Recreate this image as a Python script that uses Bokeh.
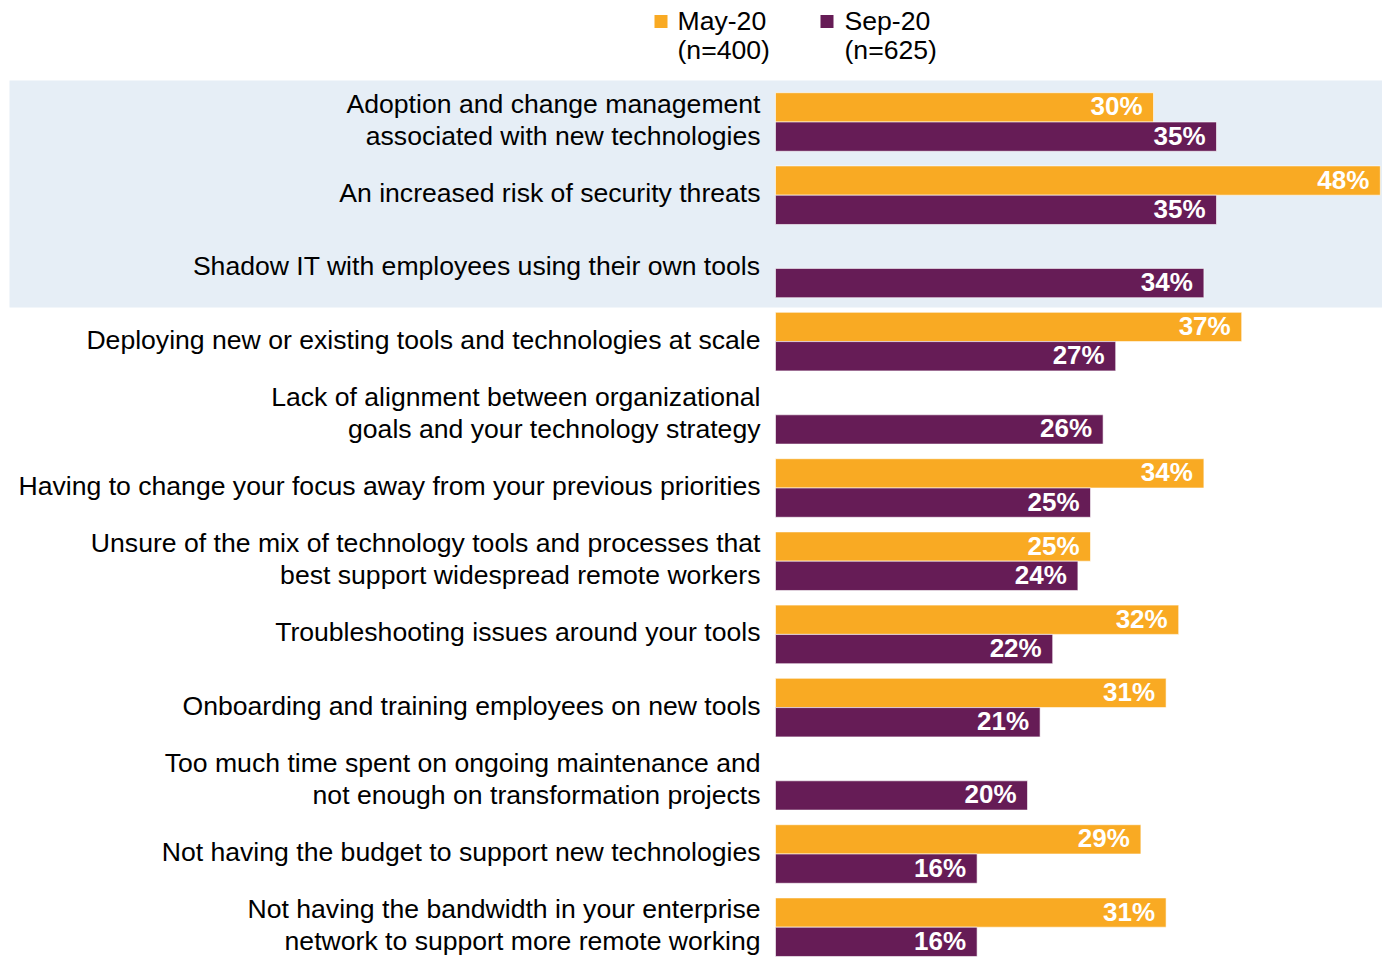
from bokeh.plotting import figure
from bokeh.models import Range1d, BoxAnnotation, ColumnDataSource
from bokeh.core.properties import value
from bokeh.embed import file_html
from bokeh.resources import INLINE

categories = [
    "Adoption and change management\nassociated with new technologies",
    "An increased risk of security threats",
    "Shadow IT with employees using their own tools",
    "Deploying new or existing tools and technologies at scale",
    "Lack of alignment between organizational\ngoals and your technology strategy",
    "Having to change your focus away from your previous priorities",
    "Unsure of the mix of technology tools and processes that\nbest support widespread remote workers",
    "Troubleshooting issues around your tools",
    "Onboarding and training employees on new tools",
    "Too much time spent on ongoing maintenance and\nnot enough on transformation projects",
    "Not having the budget to support new technologies",
    "Not having the bandwidth in your enterprise\nnetwork to support more remote working",
]
may20 = [30, 48, None, 37, None, 34, 25, 32, 31, None, 29, 31]
sep20 = [35, 35, 34, 27, 26, 25, 24, 22, 21, 20, 16, 16]
series_names = ["May-20", "Sep-20"]
series_n = ["(n=400)", "(n=625)"]

ORANGE = "#F9AA23"
PURPLE = "#661C56"
BAND = "#E6EEF6"
FONT = "Liberation Sans"

W, H = 1382, 959
PX = 12.6          # pixels per percent
X0 = 775           # pixel of 0%
ROW = 73.2         # pixels per category
ROW0 = 121.5       # pixel of first category centre
x_start, x_end = -X0 / PX, (W - X0) / PX
y_top, y_bottom = -ROW0 / ROW, (H - ROW0) / ROW

p = figure(width=W, height=H, x_range=Range1d(x_start, x_end),
           y_range=Range1d(y_bottom, y_top), output_backend="svg",
           toolbar_location=None, min_border=0,
           x_axis_location=None, y_axis_location=None)
p.grid.visible = False
p.outline_line_color = None
p.background_fill_color = "white"

band = BoxAnnotation(left=(9 - X0) / PX, right=x_end + 1,
                     top=(80 - ROW0) / ROW, bottom=(307 - ROW0) / ROW,
                     fill_color=BAND, fill_alpha=1,
                     line_color=None, level="underlay")
p.add_layout(band)

rows = list(range(len(categories)))
may_rows = [r for r, v in zip(rows, may20) if v is not None]
may_vals = [v for v in may20 if v is not None]

may_src = ColumnDataSource(dict(y=[r - 0.2 for r in may_rows], v=may_vals,
                                lab=[f"{v}%" for v in may_vals]))
sep_src = ColumnDataSource(dict(y=[r + 0.2 for r in rows], v=sep20,
                                lab=[f"{v}%" for v in sep20]))

p.hbar(y="y", left=0, right="v", height=0.4, source=may_src,
       fill_color=ORANGE, line_color="white", line_width=0.6)
p.hbar(y="y", left=0, right="v", height=0.4, source=sep_src,
       fill_color=PURPLE, line_color="white", line_width=0.6)

for src in (may_src, sep_src):
    p.text(x="v", y="y", text="lab", source=src, x_offset=-11, y_offset=-1,
           text_align="right", text_baseline="middle",
           text_font=value(FONT), text_font_size="26px",
           text_font_style="bold", text_color="white")

cat_src = ColumnDataSource(dict(y=rows, t=categories))
p.text(x=0, y="y", text="t", source=cat_src, x_offset=-15, y_offset=-2,
       text_align="right", text_baseline="middle", text_line_height=1.07,
       text_font=value(FONT), text_font_size="26.6px", text_color="black")

# legend
leg_y1 = (20 - ROW0) / ROW
leg_y2 = (49 - ROW0) / ROW
sq_xs = [(660.5 - X0) / PX, (826.5 - X0) / PX]
tx_xs = [(677 - X0) / PX, (844 - X0) / PX]
for name, n, col, sx, tx in zip(series_names, series_n, [ORANGE, PURPLE], sq_xs, tx_xs):
    p.rect(x=[sx], y=[(21 - ROW0) / ROW], width=13, height=13, width_units="screen",
           height_units="screen", fill_color=col, line_color=None)
    p.text(x=[tx, tx], y=[leg_y1, leg_y2], text=[name, n],
           text_align="left", text_baseline="middle",
           text_font=value(FONT), text_font_size="26.6px", text_color="black")

open("out.html", "w").write(file_html(p, INLINE))
